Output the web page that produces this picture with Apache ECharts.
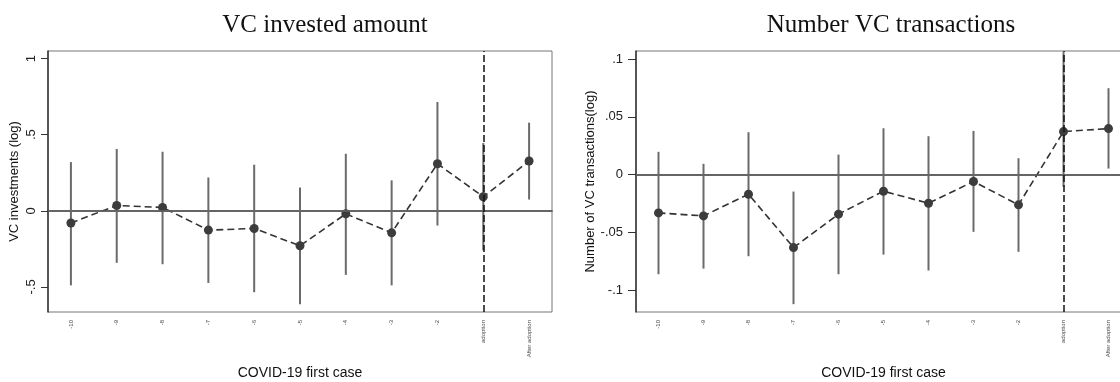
<!DOCTYPE html>
<html>
<head>
<meta charset="utf-8">
<script src="https://cdn.jsdelivr.net/npm/echarts@6/dist/echarts.min.js"></script>
<style>
  html, body { margin: 0; padding: 0; background: #fff; }
  #chart { width: 1120px; height: 382px; }
</style>
</head>
<body>
<div id="chart"></div>
<script>
// event-study categories (months relative to first COVID-19 case)
const categories = ['-10', '-9', '-8', '-7', '-6', '-5', '-4', '-3', '-2', 'adoption', 'After adoption'];

// VC invested amount (log): coefficient and 95% CI
const amountCoef = [-0.08, 0.035, 0.022, -0.127, -0.116, -0.23, -0.02, -0.145, 0.309, 0.092, 0.327];
const amountLow = [-0.49, -0.342, -0.351, -0.474, -0.535, -0.614, -0.421, -0.49, -0.097, -0.26, 0.074];
const amountHigh = [0.32, 0.406, 0.388, 0.219, 0.303, 0.153, 0.375, 0.2, 0.715, 0.445, 0.579];
const amountTicks = [-0.5, 0, 0.5, 1];

// Number of VC transactions (log): coefficient and 95% CI
const countCoef = [-0.0332, -0.0358, -0.017, -0.0632, -0.0343, -0.0144, -0.0248, -0.006, -0.0262, 0.0372, 0.0398];
const countLow = [-0.0863, -0.0814, -0.0707, -0.1122, -0.0863, -0.0693, -0.0831, -0.0496, -0.0669, -0.0105, 0.0052];
const countHigh = [0.0197, 0.0093, 0.0367, -0.0147, 0.0173, 0.0401, 0.0332, 0.0378, 0.0142, 0.106, 0.0748];
const countTicks = [-0.1, -0.05, 0, 0.05, 0.1];

// stata style labels: .5, -.05 ...
const stataFmt = (v) => String(v).replace('0.', '.');

const chart = echarts.init(document.getElementById('chart'));

const xAxisOf = (gridIndex) => ({
  type: 'category',
  gridIndex,
  data: categories,
  boundaryGap: true,
  name: 'COVID-19 first case',
  nameLocation: 'middle',
  nameGap: 54,
  nameTextStyle: { fontFamily: 'Liberation Sans', fontSize: 14, color: '#111' },
  axisLine: { lineStyle: { color: '#333', width: 1.5 } },
  axisTick: { alignWithLabel: true, length: 5, lineStyle: { color: '#333' } },
  axisLabel: {
    interval: 0, rotate: 90, margin: 8, fontSize: 6,
    fontFamily: 'Liberation Sans', color: '#444',
  },
  splitLine: { show: false },
});

const ciSeries = (idx, low, high) => ({
  type: 'custom',
  xAxisIndex: idx,
  yAxisIndex: idx,
  silent: true,
  z: 1,
  data: low.map((v, i) => [i, v, high[i]]),
  renderItem(params, api) {
    const a = api.coord([api.value(0), api.value(1)]);
    const b = api.coord([api.value(0), api.value(2)]);
    return {
      type: 'line',
      shape: { x1: a[0], y1: a[1], x2: b[0], y2: b[1] },
      style: { stroke: '#6b6b6b', lineWidth: 2 },
    };
  },
});

const coefSeries = (idx, data) => ({
  type: 'line',
  xAxisIndex: idx,
  yAxisIndex: idx,
  data,
  z: 3,
  symbol: 'circle',
  symbolSize: 9,
  itemStyle: { color: '#3c3c3c' },
  lineStyle: { color: '#333', width: 1.6, type: [7, 4] },
  markLine: {
    silent: true,
    symbol: 'none',
    label: { show: false },
    data: [
      { yAxis: 0, lineStyle: { color: '#666', width: 1.5, type: 'solid' } },
      { xAxis: 'adoption', lineStyle: { color: '#111', width: 1.5, type: [7, 3] } },
    ],
  },
});

const option = {
  animation: false,
  backgroundColor: '#fff',
  title: [
    {
      text: 'VC invested amount', left: 320, top: 8, textAlign: 'center',
      textStyle: { fontFamily: 'Liberation Serif', fontSize: 25, fontWeight: 'normal', color: '#111' },
    },
    {
      text: 'Number VC transactions', left: 886, top: 8, textAlign: 'center',
      textStyle: { fontFamily: 'Liberation Serif', fontSize: 25, fontWeight: 'normal', color: '#111' },
    },
  ],
  grid: [
    { left: 48, top: 51, width: 504, height: 261, outerBoundsMode: 'none',
      show: true, borderColor: '#777', borderWidth: 1 },
    // right panel runs past the picture edge, as in the source figure
    { left: 636, top: 51, width: 495, height: 261, outerBoundsMode: 'none',
      show: true, borderColor: '#777', borderWidth: 1 },
  ],
  xAxis: [xAxisOf(0), xAxisOf(1)],
  yAxis: [
    {
      type: 'value',
      gridIndex: 0,
      min: -0.665,
      max: 1.05,
      name: 'VC investments (log)',
      nameLocation: 'middle',
      nameGap: 27,
      nameTextStyle: { fontFamily: 'Liberation Sans', fontSize: 13, color: '#111' },
      axisLine: { show: true, lineStyle: { color: '#333', width: 1.5 } },
      axisTick: { show: true, length: 7, customValues: amountTicks, lineStyle: { color: '#333' } },
      axisLabel: {
        customValues: amountTicks, rotate: 90, margin: 10, formatter: stataFmt,
        fontFamily: 'Liberation Sans', fontSize: 13, color: '#222',
      },
      splitLine: { show: false },
    },
    {
      type: 'value',
      gridIndex: 1,
      min: -0.119,
      max: 0.107,
      name: 'Number of VC transactions(log)',
      nameLocation: 'middle',
      nameGap: 37,
      nameTextStyle: { fontFamily: 'Liberation Sans', fontSize: 13, color: '#111' },
      axisLine: { show: true, lineStyle: { color: '#333', width: 1.5 } },
      axisTick: { show: true, length: 8, customValues: countTicks, lineStyle: { color: '#333' } },
      axisLabel: {
        customValues: countTicks, margin: 13, formatter: stataFmt,
        fontFamily: 'Liberation Sans', fontSize: 13, color: '#222',
      },
      splitLine: { show: false },
    },
  ],
  series: [
    ciSeries(0, amountLow, amountHigh),
    coefSeries(0, amountCoef),
    ciSeries(1, countLow, countHigh),
    coefSeries(1, countCoef),
  ],
};

chart.setOption(option);
</script>
</body>
</html>
